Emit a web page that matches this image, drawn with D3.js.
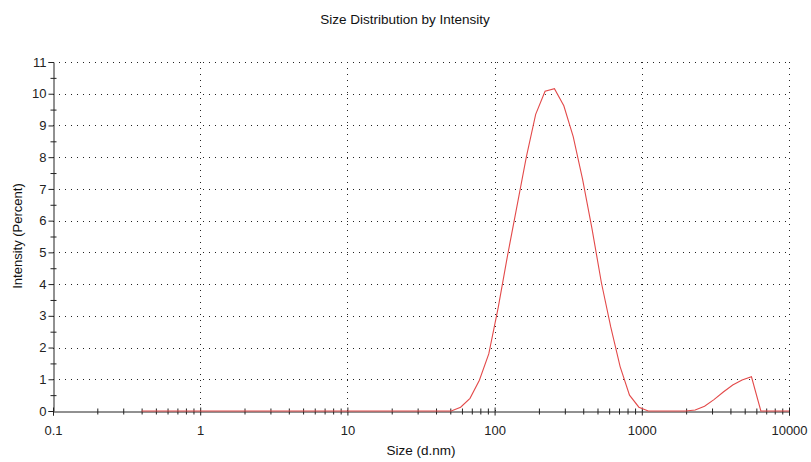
<!DOCTYPE html>
<html>
<head>
<meta charset="utf-8">
<script src="https://cdn.jsdelivr.net/npm/d3@7"></script>
<style>
  html, body { margin: 0; padding: 0; background: #fff; }
  svg { display: block; font-family: "Liberation Sans", Arial, sans-serif; }
</style>
</head>
<body>
<svg id="chart" width="811" height="462"></svg>
<script>
// ---- Data ----
const sizes = [0.4, 0.4632, 0.5365, 0.6213, 0.7195, 0.8332, 0.9649,
  1.117, 1.294, 1.499, 1.736, 2.010, 2.328, 2.696, 3.122, 3.615, 4.187, 4.849, 5.615, 6.503, 7.531, 8.721,
  10.10, 11.70, 13.54, 15.69, 18.17, 21.04, 24.36, 28.21, 32.67, 37.84, 43.82, 50.75, 58.77, 68.06, 78.82, 91.28,
  105.7, 122.4, 141.8, 164.2, 190.1, 220.2, 255.0, 295.3, 342.0, 396.1, 458.7, 531.2, 615.1, 712.4, 825.0, 955.4,
  1106, 1281, 1484, 1718, 1990, 2305, 2669, 3091, 3580, 4145, 4801, 5560, 6439, 7456, 8635, 10000];
const intensity = [0, 0, 0, 0, 0, 0, 0,
  0, 0, 0, 0, 0, 0, 0, 0, 0, 0, 0, 0, 0, 0, 0,
  0, 0, 0, 0, 0, 0, 0, 0, 0, 0, 0, 0, 0.12, 0.4, 0.97, 1.8,
  3.25, 4.9, 6.45, 8.0, 9.35, 10.08, 10.16, 9.62, 8.65, 7.3, 5.75, 4.05, 2.65, 1.4, 0.5, 0.12,
  0, 0, 0, 0, 0, 0.03, 0.15, 0.36, 0.6, 0.82, 0.98, 1.08, 0, 0, 0, 0];
const xMajorTicks = [0.1, 1, 10, 100, 1000, 10000];
const xTickLabels = ["0.1", "1", "10", "100", "1000", "10000"];
const yMajorTicks = [0, 1, 2, 3, 4, 5, 6, 7, 8, 9, 10, 11];
const titleText = "Size Distribution by Intensity";
const xTitle = "Size (d.nm)";
const yTitle = "Intensity (Percent)";

// ---- Layout ----
const svg = d3.select("#chart");
const pLeft = 53, pRight = 789, pTop = 62, pBottom = 411;
const x = d3.scaleLog().domain([0.1, 10000]).range([pLeft, pRight]);
const y = d3.scaleLinear().domain([0, 11]).range([pBottom, pTop]);

const xMinor = [];
for (let d = 0.1; d < 10000; d *= 10) {
  for (let k = 2; k <= 9; k++) xMinor.push(+(d * k).toPrecision(3));
}
const yMinor = yMajorTicks.slice(0, -1).map(v => v + 0.5);

// ---- Grid ----
const grid = svg.append("g").attr("stroke", "#222").attr("stroke-width", 1)
  .attr("stroke-dasharray", "1,5");
grid.selectAll("line.h").data(yMajorTicks.filter(v => v > 0)).enter().append("line")
  .attr("x1", pLeft).attr("x2", pRight)
  .attr("y1", d => Math.round(y(d)) + 0.5).attr("y2", d => Math.round(y(d)) + 0.5);
grid.selectAll("line.v").data(xMajorTicks.filter(v => v > 0.1)).enter().append("line")
  .attr("y1", pBottom).attr("y2", pTop)
  .attr("x1", d => Math.round(x(d)) + 0.5).attr("x2", d => Math.round(x(d)) + 0.5);

// ---- Axes ----
const fmtMap = new Map(xMajorTicks.map((v, i) => [v, xTickLabels[i]]));
const xAxis = svg.append("g").attr("transform", `translate(0,${pBottom + 0.5})`)
  .call(d3.axisBottom(x).tickValues(xMajorTicks).tickFormat(d => fmtMap.get(d)).tickSizeOuter(0).tickSize(4).tickPadding(10));
xAxis.selectAll(".tick line").attr("y1", -4).attr("y2", 4);
const xAxisMinor = svg.append("g").attr("transform", `translate(0,${pBottom + 0.5})`)
  .call(d3.axisBottom(x).tickValues(xMinor).tickFormat("").tickSizeOuter(0).tickSize(3));
xAxisMinor.select(".domain").remove();
xAxisMinor.selectAll(".tick line").attr("y1", -3).attr("y2", 3);

const yAxis = svg.append("g").attr("transform", `translate(${pLeft + 0.5},0)`)
  .call(d3.axisLeft(y).tickValues(yMajorTicks).tickFormat(d3.format("d")).tickSizeOuter(0).tickSize(5).tickPadding(2));
const yAxisMinor = svg.append("g").attr("transform", `translate(${pLeft + 0.5},0)`)
  .call(d3.axisLeft(y).tickValues(yMinor).tickFormat("").tickSizeOuter(0).tickSize(3));
yAxisMinor.select(".domain").remove();
yAxisMinor.selectAll(".tick line").attr("x1", -3).attr("x2", 3);

svg.selectAll(".domain").attr("stroke", "#222");
svg.selectAll(".tick line").attr("stroke", "#222");
svg.selectAll(".tick text").attr("font-size", 13).attr("fill", "#222")
  .attr("font-family", "Liberation Sans, Arial, sans-serif");

// ---- Line ----
const pts = sizes.map((s, i) => [s, intensity[i]]);
svg.append("path").datum(pts)
  .attr("fill", "none").attr("stroke", "#e34a4a").attr("stroke-width", 1.1)
  .attr("d", d3.line().x(d => x(d[0])).y(d => y(d[1])));

// ---- Titles ----
svg.append("text").attr("x", 405).attr("y", 24).attr("text-anchor", "middle")
  .attr("font-size", 13.5).attr("fill", "#111").text(titleText);
svg.append("text").attr("x", 421).attr("y", 455).attr("text-anchor", "middle")
  .attr("font-size", 13.5).attr("fill", "#111").text(xTitle);
svg.append("text").attr("transform", "translate(22,236) rotate(-90)").attr("text-anchor", "middle")
  .attr("font-size", 13).attr("fill", "#111").text(yTitle);
</script>
</body>
</html>
